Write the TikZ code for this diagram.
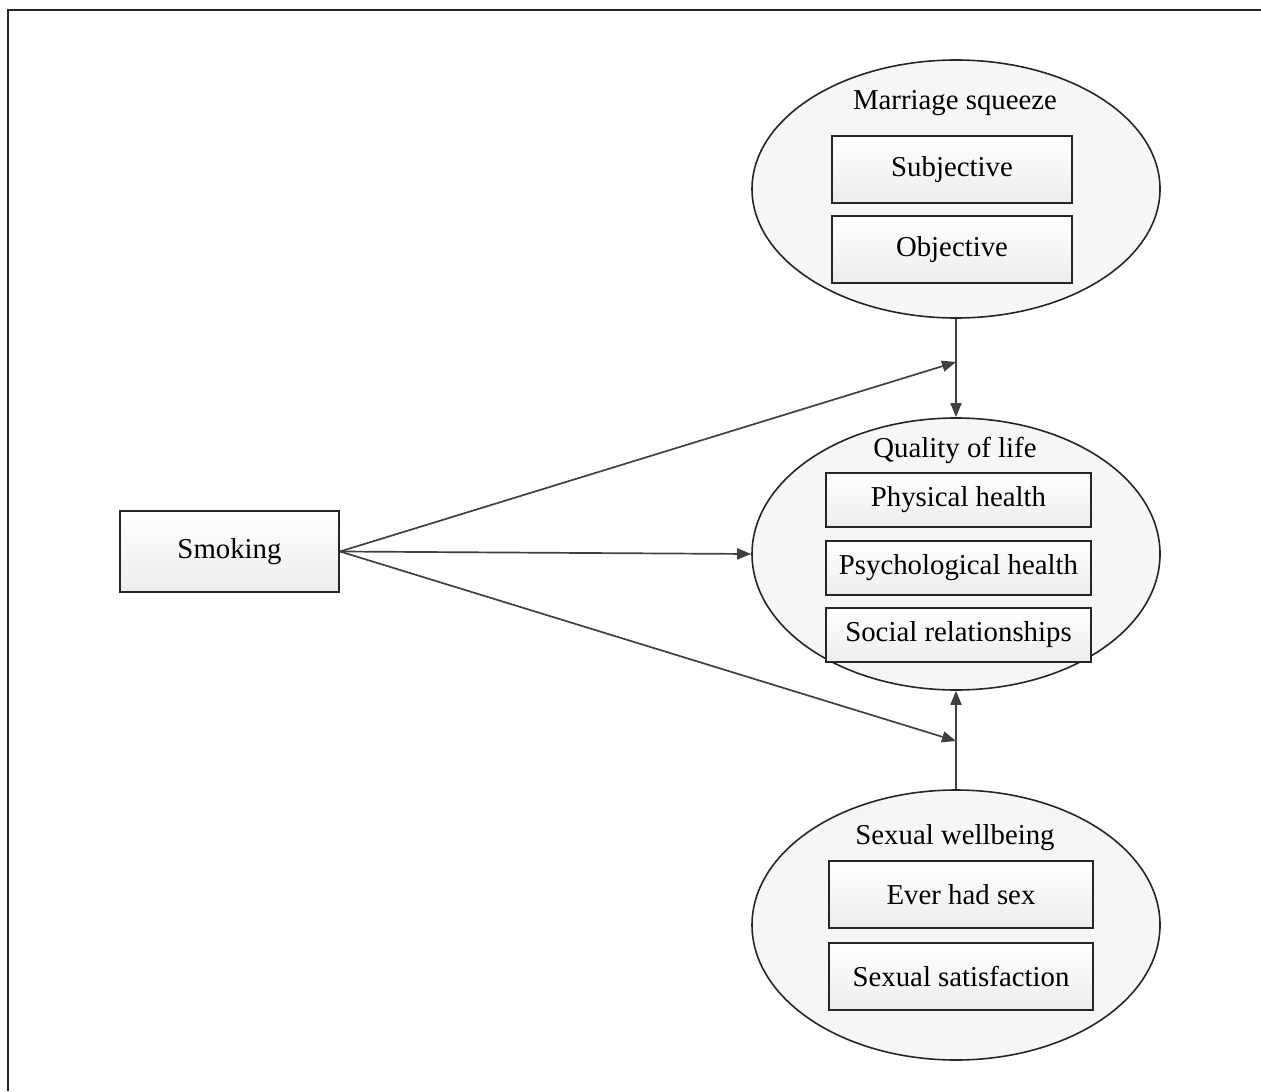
\documentclass[tikz,border=0pt]{standalone}
\usepackage{fontspec}
\setmainfont{Liberation Serif}
\usetikzlibrary{shapes.geometric,arrows.meta}
\begin{document}
\begin{tikzpicture}[x=0.5pt,y=-0.5pt,
  oval/.style={ellipse,draw=black!85,line width=0.8pt,fill=gray!7,inner sep=0pt},
  item/.style={rectangle,draw=black!85,line width=1pt,top color=white,bottom color=gray!14,
    inner sep=0pt,font=\fontsize{14.4}{16}\selectfont},
  ttl/.style={inner sep=0pt,font=\fontsize{14.4}{16}\selectfont},
  conn/.style={draw=black!75,line width=0.85pt,-{Triangle[length=7pt,width=5.5pt]}}]
\useasboundingbox (0,0) rectangle (1261,1091);
\draw[black!85,line width=1.1pt] (8,1091) -- (8,10) -- (1261,10);
% Marriage squeeze
\node[oval,minimum width=204pt,minimum height=129pt] (ms) at (956,189) {};
\node[ttl] (mst) at (955,103) {Marriage squeeze};
\node[item,minimum width=120pt,minimum height=33.5pt] (subj) at (952,169.5) {Subjective};
\node[item,minimum width=120pt,minimum height=33.5pt] (obj) at (952,249.5) {Objective};
% Quality of life
\node[oval,minimum width=204pt,minimum height=136pt] (qol) at (956,554) {};
\node[ttl] (qolt) at (955,450) {Quality of life};
\node[item,minimum width=132.5pt,minimum height=27pt] (phys) at (958.5,500) {Physical health};
\node[item,minimum width=132.5pt,minimum height=27pt] (psy) at (958.5,567.5) {Psychological health};
\node[item,minimum width=132.5pt,minimum height=27pt] (soc) at (958.5,635) {Social relationships};
% Sexual wellbeing
\node[oval,minimum width=204pt,minimum height=135pt] (sw) at (956,925) {};
\node[ttl] (swt) at (955,838) {Sexual wellbeing};
\node[item,minimum width=132pt,minimum height=33.5pt] (ever) at (961,894.5) {Ever had sex};
\node[item,minimum width=132pt,minimum height=33.5pt] (sat) at (961,976.5) {Sexual satisfaction};
% Smoking
\node[item,minimum width=109.5pt,minimum height=40.5pt] (smk) at (229.5,551.5) {Smoking};
% junctions
\coordinate (j1) at (956,362);
\coordinate (j2) at (956,741);
% connectors
\draw[conn] (ms.south) -- (qol.north);
\draw[conn] (sw.north) -- (qol.south);
\draw[conn] (smk.east) -- (j1);
\draw[conn] (smk.east) -- (j2);
\draw[conn] (smk.east) -- (qol.west);
\end{tikzpicture}
\end{document}
